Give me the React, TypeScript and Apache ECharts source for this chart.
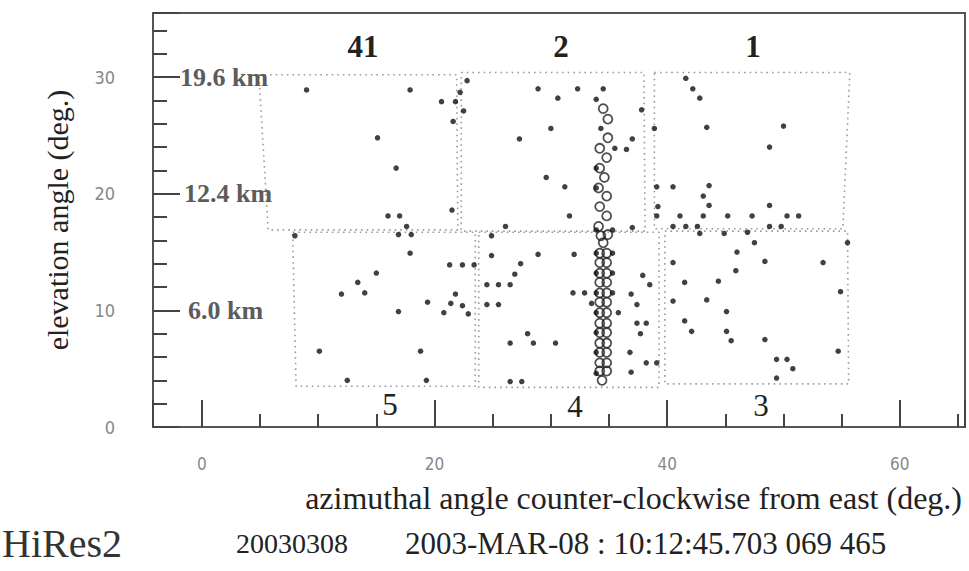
import React, { useEffect, useRef } from "react";
import * as echarts from "echarts";

// ---- data (azimuth deg, elevation deg) ----
const filledPoints: [number, number][] = [
  // mirror 41 / 5 region
  [9.0, 28.9], [17.9, 28.9], [22.8, 29.7], [22.2, 28.7], [20.6, 27.9], [21.8, 27.9],
  [22.5, 27.1], [21.6, 26.2], [15.1, 24.8], [16.7, 22.2], [21.5, 18.6], [16.0, 18.1],
  [17.0, 18.1], [17.6, 17.2], [16.9, 16.5], [18.0, 16.5], [8.0, 16.4], [17.9, 14.9],
  [15.0, 13.2], [21.3, 13.9], [22.4, 13.9], [23.4, 13.9], [13.4, 12.4], [12.0, 11.4],
  [14.0, 11.5], [21.8, 11.4], [19.4, 10.7], [21.4, 10.6], [22.4, 10.4], [16.9, 9.9],
  [20.8, 9.8], [22.9, 9.7], [10.1, 6.5], [18.8, 6.5], [12.5, 4.0], [19.3, 4.0],
  // mirror 2 / 4 region
  [28.9, 29.0], [32.3, 29.0], [34.5, 29.0], [30.6, 28.2], [33.9, 28.1], [30.0, 25.6],
  [34.3, 25.6], [27.3, 24.7], [29.6, 21.4], [31.2, 20.6], [31.6, 18.1], [26.1, 17.2],
  [37.0, 24.7], [36.5, 23.8], [35.5, 23.9], [37.8, 27.2], [38.9, 25.6], [39.1, 20.6],
  [37.0, 17.1], [39.2, 18.9], [24.9, 16.4], [24.9, 14.7], [28.9, 14.8], [32.0, 14.8],
  [27.4, 14.0], [26.9, 13.1], [24.5, 12.2], [25.5, 12.2], [26.5, 12.2], [24.5, 10.5],
  [25.5, 10.5], [31.9, 11.5], [32.9, 11.5], [33.5, 10.6], [37.9, 13.0], [38.5, 12.2],
  [36.9, 11.4], [37.4, 10.5], [35.8, 9.8], [37.4, 8.9], [38.2, 8.9], [37.7, 8.0],
  [28.0, 8.0], [26.5, 7.2], [28.5, 7.2], [30.4, 7.2], [36.8, 6.4], [38.2, 5.5],
  [39.1, 5.5], [36.9, 4.7], [26.5, 3.9], [27.5, 3.9],
  // dots along the tube column
  [33.9, 22.2], [33.9, 20.5], [33.9, 16.9], [33.9, 14.9], [33.9, 13.2], [33.9, 11.5],
  [33.9, 9.8], [33.9, 8.1], [33.9, 6.4], [33.9, 4.6], [35.3, 16.9], [35.3, 14.9],
  [35.3, 13.2], [35.3, 11.5],
  // mirror 1 / 3 region
  [41.6, 29.9], [42.2, 29.0], [42.8, 28.2], [43.4, 25.7], [50.0, 25.8], [48.8, 24.0],
  [40.5, 20.6], [43.6, 20.7], [43.1, 19.8], [43.6, 19.0], [48.8, 19.0], [41.1, 18.1],
  [43.1, 18.1], [45.2, 18.1], [47.3, 18.1], [50.3, 18.1], [51.3, 18.1], [39.1, 18.1],
  [40.5, 17.2], [41.6, 17.2], [42.6, 17.2], [48.8, 17.2], [49.8, 17.2], [42.8, 16.6],
  [44.9, 16.6], [46.9, 16.7], [47.5, 15.8], [46.0, 15.0], [40.5, 14.1], [48.4, 14.2],
  [53.4, 14.1], [55.5, 15.8], [45.9, 13.4], [41.5, 12.4], [44.4, 12.5], [54.9, 11.6],
  [40.5, 10.8], [43.4, 10.9], [45.1, 9.9], [41.5, 9.1], [42.1, 8.2], [45.1, 8.2],
  [45.5, 7.4], [48.4, 7.5], [54.7, 6.5], [49.4, 5.8], [50.3, 5.8], [50.8, 5.0],
  [49.4, 4.2],
];

const tubeCircles: [number, number][] = [
  [34.5, 27.3], [34.9, 26.4], [34.9, 24.8], [34.2, 23.9], [34.8, 23.1], [34.2, 22.2],
  [34.6, 21.4], [34.1, 20.5], [34.8, 19.8], [34.2, 18.9], [34.8, 18.1], [34.1, 17.2],
  [34.9, 16.5], [34.3, 16.4], [34.5, 15.8], [34.8, 14.9], [34.2, 14.9], [34.2, 14.1],
  [34.8, 14.1], [34.8, 13.2], [34.2, 13.2], [34.2, 12.4], [34.8, 12.4], [34.8, 11.5],
  [34.2, 11.5], [34.2, 10.7], [34.8, 10.7], [34.8, 9.8], [34.2, 9.8], [34.2, 8.9],
  [34.8, 8.9], [34.8, 8.1], [34.2, 8.1], [34.2, 7.2], [34.8, 7.2], [34.8, 6.4],
  [34.2, 6.4], [34.2, 5.5], [34.8, 5.5], [34.8, 4.8], [34.2, 4.8], [34.4, 4.0],
];

// mirror field-of-view outlines
const mirror41: [number, number][] = [[4.9, 30.2], [21.9, 30.2], [22.0, 16.9], [5.7, 16.9], [4.9, 30.2]];
const mirror2: [number, number][] = [[22.3, 30.4], [38.0, 30.4], [38.1, 16.8], [22.3, 16.8], [22.3, 30.4]];
const mirror1: [number, number][] = [[38.9, 30.4], [55.7, 30.4], [55.1, 17.0], [38.9, 17.0], [38.9, 30.4]];
const mirror5: [number, number][] = [[7.8, 16.7], [23.5, 16.7], [23.5, 3.5], [8.1, 3.5], [7.8, 16.7]];
const mirror4: [number, number][] = [[23.8, 16.7], [39.3, 16.7], [39.3, 3.4], [23.8, 3.4], [23.8, 16.7]];
const mirror3: [number, number][] = [[39.8, 16.8], [55.5, 16.8], [55.6, 3.7], [39.8, 3.7], [39.8, 16.8]];

const mirrorNames = ["41", "2", "1", "5", "4", "3"];
const kmLabels = ["19.6 km", "12.4 km", "6.0 km"];
const kmElevations = [30, 20, 10];

const X_MIN = -4.2;
const X_MAX = 65.6;
const Y_MIN = 0;
const Y_MAX = 35.5;

export default function App() {
  const ref = useRef<HTMLDivElement>(null);

  useEffect(() => {
    document.body.style.margin = "0";
    if (!ref.current) return;
    const chart = echarts.init(ref.current, null, { renderer: "svg" });

    const gridLeft = 153, gridTop = 13, gridW = 812, gridH = 414;
    const yPix = (v: number) => gridTop + gridH - ((v - Y_MIN) / (Y_MAX - Y_MIN)) * gridH;

    const serif = "'Liberation Serif', 'Times New Roman', serif";
    const narrow = "'DejaVu Sans Condensed', 'Liberation Sans Narrow', 'Roboto', sans-serif";
    const tickStyle = { color: "#444", width: 2 };

    const outlines = [mirror41, mirror2, mirror1, mirror5, mirror4, mirror3];
    const outlineSeries = outlines.map((pts, i) => ({
      name: "mirror " + mirrorNames[i],
      type: "line",
      data: pts,
      symbol: "none",
      silent: true,
      lineStyle: { color: "#9a9a9a", width: 1.6, type: [1.6, 4] },
      z: 1,
    }));

    const mirrorLabelPos: [number, number, boolean][] = [
      [363, 46, true], [561, 46, true], [753, 46, true],
      [390, 404, false], [575, 406, false], [761, 405, false],
    ];

    const graphics: any[] = [];
    mirrorNames.forEach((n, i) => {
      const [x, y, bold] = mirrorLabelPos[i];
      graphics.push({
        type: "text", x, y, z: 10,
        style: { text: n, fill: "#222", fontFamily: serif, fontSize: 31, fontWeight: bold ? "bold" : "normal", align: "center", verticalAlign: "middle" },
      });
    });
    kmLabels.forEach((t, i) => {
      graphics.push({
        type: "text", x: 180 + i * 4, y: yPix(kmElevations[i]), z: 10,
        style: { text: t, fill: "#5c5c5c", fontFamily: serif, fontSize: 26, fontWeight: "bold", align: "left", verticalAlign: "middle" },
      });
    });
    graphics.push(
      { type: "text", x: 2, y: 543, style: { text: "HiRes2", fill: "#333", fontFamily: serif, fontSize: 40, align: "left", verticalAlign: "middle" } },
      { type: "text", x: 236, y: 543, style: { text: "20030308", fill: "#222", fontFamily: serif, fontSize: 28, align: "left", verticalAlign: "middle" } },
      { type: "text", x: 405, y: 543, style: { text: "2003-MAR-08 : 10:12:45.703 069 465", fill: "#222", fontFamily: serif, fontSize: 31, align: "left", verticalAlign: "middle" } }
    );

    chart.setOption({
      animation: false,
      backgroundColor: "#ffffff",
      grid: {
        left: gridLeft, top: gridTop, width: gridW, height: gridH,
        show: true, borderColor: "#555", borderWidth: 2, backgroundColor: "transparent",
      },
      xAxis: [
        {
          type: "value", min: X_MIN, max: X_MAX, position: "bottom",
          splitNumber: 3, minInterval: 20, maxInterval: 20,
          axisLine: { show: false, onZero: false },
          axisTick: { show: true, inside: true, length: 27, lineStyle: tickStyle },
          axisLabel: {
            margin: 28, color: "#888", fontSize: 17, fontFamily: narrow,
            formatter: (v: number) => (Math.abs(v % 20) < 1e-6 ? String(Math.round(v)) : ""),
          },
          splitLine: { show: false },
          name: "azimuthal angle counter-clockwise from east (deg.)",
          nameLocation: "end", nameGap: -3,
          nameTextStyle: { fontFamily: serif, fontSize: 32, color: "#222", align: "right", verticalAlign: "top", padding: [55, 0, 0, 0] },
        },
        {
          type: "value", min: X_MIN, max: X_MAX, position: "bottom",
          splitNumber: 14, minInterval: 5, maxInterval: 5,
          axisLine: { show: false, onZero: false },
          axisTick: { show: true, inside: true, length: 13, lineStyle: tickStyle },
          axisLabel: { show: false },
          splitLine: { show: false },
        },
      ],
      yAxis: [
        {
          type: "value", min: Y_MIN, max: Y_MAX, interval: 10, position: "left",
          axisLine: { show: false, onZero: false },
          axisTick: { show: true, inside: true, length: 27, lineStyle: tickStyle },
          axisLabel: {
            margin: 38, color: "#888", fontSize: 18, fontFamily: narrow,
            formatter: (v: number) => (Math.abs(v % 10) < 1e-6 ? String(Math.round(v)) : ""),
          },
          splitLine: { show: false },
          name: "elevation angle (deg.)",
          nameLocation: "middle", nameGap: 81, nameRotate: 90,
          nameTextStyle: { fontFamily: serif, fontSize: 30, color: "#222" },
        },
        {
          type: "value", min: Y_MIN, max: Y_MAX, interval: 2, position: "left",
          axisLine: { show: false, onZero: false },
          axisTick: { show: true, inside: true, length: 14, lineStyle: tickStyle },
          axisLabel: { show: false },
          splitLine: { show: false },
        },
      ],
      series: [
        ...outlineSeries,
        {
          name: "tube",
          type: "scatter",
          data: tubeCircles,
          symbol: "circle",
          symbolSize: 9,
          itemStyle: { color: "rgba(255,255,255,0)", borderColor: "#222", borderWidth: 1.8 },
          z: 3,
        },
        {
          name: "hits",
          type: "scatter",
          data: filledPoints,
          symbol: "circle",
          symbolSize: 5.5,
          itemStyle: { color: "#111" },
          z: 4,
        },
      ],
      graphic: graphics,
    });

    return () => chart.dispose();
  }, []);

  return <div ref={ref} style={{ width: 969, height: 571 }} />;
}
